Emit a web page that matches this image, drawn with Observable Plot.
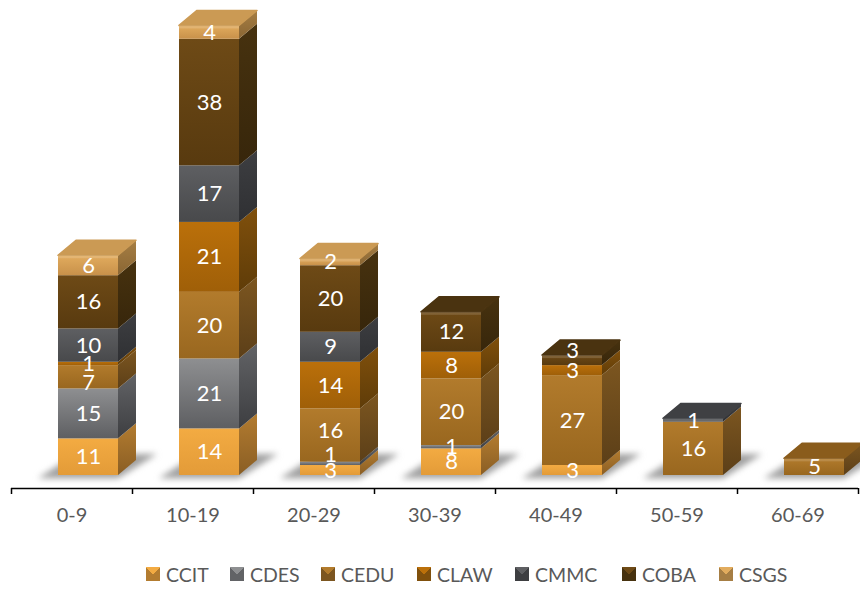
<!DOCTYPE html>
<html>
<head>
<meta charset="utf-8">
<script src="https://cdn.jsdelivr.net/npm/d3@7"></script>
<script src="https://cdn.jsdelivr.net/npm/@observablehq/plot@0.6"></script>
<style>
html,body{margin:0;padding:0;background:#fff;overflow:hidden}
#chart{width:860px;height:555px}
#legend{position:relative;height:34px;font:19.5px Lato,sans-serif;color:#595959}
#legend .it{position:absolute;top:7px;display:flex;align-items:center;height:24px}
#legend .sw{width:14px;height:14px;margin-right:6px;flex:none}
</style>
</head>
<body>
<div id="chart"></div>
<div id="legend"></div>
<script>
const ageGroups = ["0-9","10-19","20-29","30-39","40-49","50-59","60-69"];
const seriesNames = ["CCIT","CDES","CEDU","CLAW","CMMC","COBA","CSGS"];
const CCIT = [11,14,3,8,3,0,0];
const CDES = [15,21,1,1,0,0,0];
const CEDU = [7,20,16,20,27,16,5];
const CLAW = [1,21,14,8,3,0,0];
const CMMC = [10,17,9,0,0,1,0];
const COBA = [16,38,20,12,3,0,0];
const CSGS = [6,4,2,0,0,0,0];
const seriesValues = [CCIT,CDES,CEDU,CLAW,CMMC,COBA,CSGS];

// front top, front bottom, side top, side bottom, roof
const palette = {
  CCIT:["#f3ab42","#e39b38","#b37c30","#8a5e24","#c88f3c"],
  CDES:["#8e8f91","#5e5f62","#626366","#3d3e41","#6a6b6e"],
  CEDU:["#b27b2c","#99671f","#7c5620","#5c3f18","#8a5c1c"],
  CLAW:["#bb700a","#9f5f08","#80500c","#5f3c08","#8a5a10"],
  CMMC:["#5e5f62","#48494b","#3d3e41","#2f3033","#3f4043"],
  COBA:["#6e4a16","#583a0f","#47320f","#37260b","#4a3310"],
  CSGS:["#e2ac5e","#c8914a","#a67e44","#8a6633","#cb9a54"]
};

const xRange = [11,858], yTop = 488, baseY = 475, pxPerUnit = 3.33;
const pxX = (xRange[1]-xRange[0])/7;
const left = 47/pxX, barW = 60/pxX, dx = 18/pxX, dy = 15/pxPerUnit;

// data labels the reference has moved away from their segment centres (pixels, + = up)
const labelNudge = {"0-CEDU":-6,"2-CDES":9,"2-CEDU":5,"4-COBA":10};

const segments = [], roofs = [];
ageGroups.forEach((g,i)=>{
  let sum = 0, last = null;
  seriesNames.forEach((s,k)=>{
    const v = seriesValues[k][i];
    if(!v) return;
    const seg = {g,i,s,v,lo:sum,hi:sum+v,x1:i+left,x2:i+left+barW};
    segments.push(seg); sum += v; last = seg;
  });
  roofs.push(last);
});

const defs = () => {
  const d = d3.create("svg:defs");
  seriesNames.forEach(s=>{
    const p = palette[s];
    [["f",p[0],p[1]],["s",p[2],p[3]]].forEach(([t,a,b])=>{
      const lg = d.append("linearGradient").attr("id",`${t}-${s}`).attr("x1",0).attr("y1",0).attr("x2",0).attr("y2",1);
      lg.append("stop").attr("offset","0%").attr("stop-color",a);
      lg.append("stop").attr("offset","100%").attr("stop-color",b);
    });
  });
  return d.node();
};

const shadow = ageGroups.flatMap((g,i)=>[
  {i,y:-1,   x1:i+left-20/pxX, x2:i+left+barW},
  {i,y:6.3,  x1:i+left+18/pxX, x2:i+left+barW+39/pxX}
]);

const sideMarks = seriesNames.flatMap(s=>{
  const segs = segments.filter(d=>d.s===s);
  const pts = segs.flatMap(d=>[
    {id:d.i,x:d.x2,y1:d.lo,y2:d.hi},
    {id:d.i,x:d.x2+dx,y1:d.lo+dy,y2:d.hi+dy}
  ]);
  return [
    Plot.areaY(pts,{x:"x",y1:"y1",y2:"y2",z:"id",fill:`url(#s-${s})`}),
    Plot.rect(segs,{x1:"x1",x2:"x2",y1:"lo",y2:"hi",fill:`url(#f-${s})`})
  ];
});

const roofMarks = seriesNames.flatMap(s=>{
  const rs = roofs.filter(d=>d.s===s);
  const pts = rs.flatMap(d=>[
    {id:d.i,y:d.hi,x1:d.x1,x2:d.x2},
    {id:d.i,y:d.hi+dy,x1:d.x1+dx,x2:d.x2+dx}
  ]);
  return [
    Plot.areaX(pts,{y:"y",x1:"x1",x2:"x2",z:"id",fill:palette[s][4],stroke:palette[s][4],strokeWidth:1.5,strokeLinejoin:"round"}),
    Plot.rect(rs,{x1:"x1",x2:"x2",y1:d=>d.hi-0.9,y2:"hi",fill:"#fff",fillOpacity:0.14})
  ];
});

const chart = Plot.plot({
  width:860,height:555,
  marginTop:0,marginLeft:0,marginRight:0,marginBottom:67,
  style:{background:"transparent",overflow:"visible"},
  x:{domain:[0,7],range:xRange,axis:null},
  y:{domain:[(baseY-yTop)/pxPerUnit,baseY/pxPerUnit],range:[yTop,0],axis:null},
  marks:[
    defs,
    Plot.areaX(shadow,{y:"y",x1:"x1",x2:"x2",z:"i",fill:"#8f8f8f",fillOpacity:0.85,imageFilter:"blur(3px)"}),
    ...sideMarks,
    ...roofMarks,
    Plot.text(segments,{x:d=>(d.x1+d.x2)/2,y:d=>(d.lo+d.hi)/2+(labelNudge[`${d.i}-${d.s}`]||0)/pxPerUnit,text:"v",fill:"#fff",fontSize:22,fontFamily:"Lato"}),
    Plot.ruleY([(baseY-yTop)/pxPerUnit],{x1:0,x2:7,stroke:"#000",strokeWidth:1.5}),
    Plot.axisX(d3.range(8),{anchor:"bottom",tickSize:6,tickFormat:()=>"",stroke:"#000",strokeWidth:1.5,strokeOpacity:1,label:null}),
    Plot.axisX(d3.range(7).map(i=>i+0.5),{anchor:"bottom",tickSize:0,tickPadding:19,tickFormat:(d,i)=>ageGroups[i],fontSize:20,fontFamily:"Lato",color:"#595959",label:null})
  ]
});
document.getElementById("chart").append(chart);

const legendX = [146,230,321,417,515,622,719];
const legend = document.getElementById("legend");
seriesNames.forEach((s,k)=>{
  const p = palette[s];
  const it = document.createElement("div");
  it.className="it"; it.style.left=legendX[k]+"px";
  const sw = document.createElement("span");
  sw.className="sw";
  sw.style.background=`conic-gradient(${p[0]} 0 45deg, ${p[2]} 45deg 315deg, ${p[0]} 315deg)`;
  const t = document.createElement("span");
  t.textContent=s;
  it.append(sw,t);
  legend.append(it);
});
</script>
</body>
</html>
